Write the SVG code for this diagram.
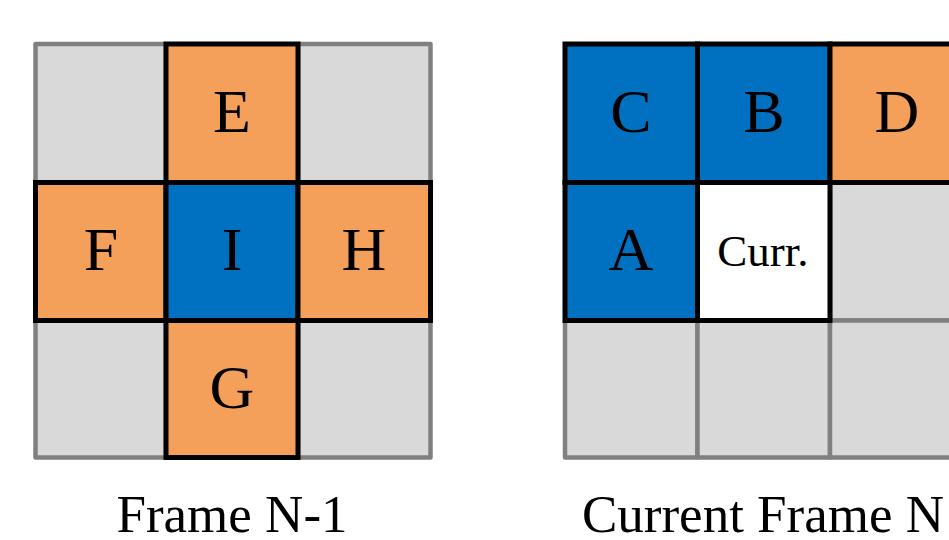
<svg xmlns="http://www.w3.org/2000/svg" width="949" height="540" viewBox="0 0 949 540">
<style>
.g{fill:#d9d9d9;stroke:#808080;stroke-width:4.5;stroke-linejoin:round}
.o{fill:#f4a05a;stroke:#000;stroke-width:5}
.b{fill:#0070c0;stroke:#000;stroke-width:5}
.w{fill:#fff;stroke:#000;stroke-width:5}
text{font-family:"Liberation Serif","Times New Roman",serif;fill:#000;text-anchor:middle}
.L{font-size:62px}
.s{font-size:45px}
.cap{font-size:53px}
</style>
<rect width="949" height="540" fill="#fff"/>
<g id="frame-n-1">
  <g id="bg1">
    <rect class="g" x="35.5" y="44" width="130.5" height="138.5"/>
    <rect class="g" x="298" y="44" width="132.5" height="138.5"/>
    <rect class="g" x="35.5" y="320.5" width="130.5" height="137"/>
    <rect class="g" x="298" y="320.5" width="132.5" height="137"/>
  </g>
  <g id="E"><rect class="o" x="166" y="44" width="132" height="138.5"/><text class="L" x="232" y="132">E</text></g>
  <g id="F"><rect class="o" x="35.5" y="182.5" width="130.5" height="138"/><text class="L" x="101" y="270">F</text></g>
  <g id="I"><rect class="b" x="166" y="182.5" width="132" height="138"/><text class="L" x="232" y="270">I</text></g>
  <g id="H"><rect class="o" x="298" y="182.5" width="132.5" height="138"/><text class="L" x="364" y="270">H</text></g>
  <g id="G"><rect class="o" x="166" y="320.5" width="132" height="137"/><text class="L" x="232" y="408">G</text></g>
  <text id="cap1" class="cap" x="232" y="532">Frame N-1</text>
</g>
<g id="frame-n">
  <g id="bg2">
    <rect class="g" x="830" y="182.5" width="132.5" height="138"/>
    <rect class="g" x="565" y="320.5" width="132.5" height="137"/>
    <rect class="g" x="697.5" y="320.5" width="132.5" height="137"/>
    <rect class="g" x="830" y="320.5" width="132.5" height="137"/>
  </g>
  <g id="C"><rect class="b" x="565" y="44" width="132.5" height="138.5"/><text class="L" x="631" y="132">C</text></g>
  <g id="B"><rect class="b" x="697.5" y="44" width="132.5" height="138.5"/><text class="L" x="764" y="132">B</text></g>
  <g id="D"><rect class="o" x="830" y="44" width="132.5" height="138.5"/><text class="L" x="897" y="132">D</text></g>
  <g id="A"><rect class="b" x="565" y="182.5" width="132.5" height="138"/><text class="L" x="631" y="270">A</text></g>
  <g id="Curr"><rect class="w" x="697.5" y="182.5" width="132.5" height="138"/><text class="s" x="763" y="266">Curr.</text></g>
  <text id="cap2" class="cap" x="763" y="532">Current Frame N</text>
</g>
<g id="connectors"/>
</svg>
